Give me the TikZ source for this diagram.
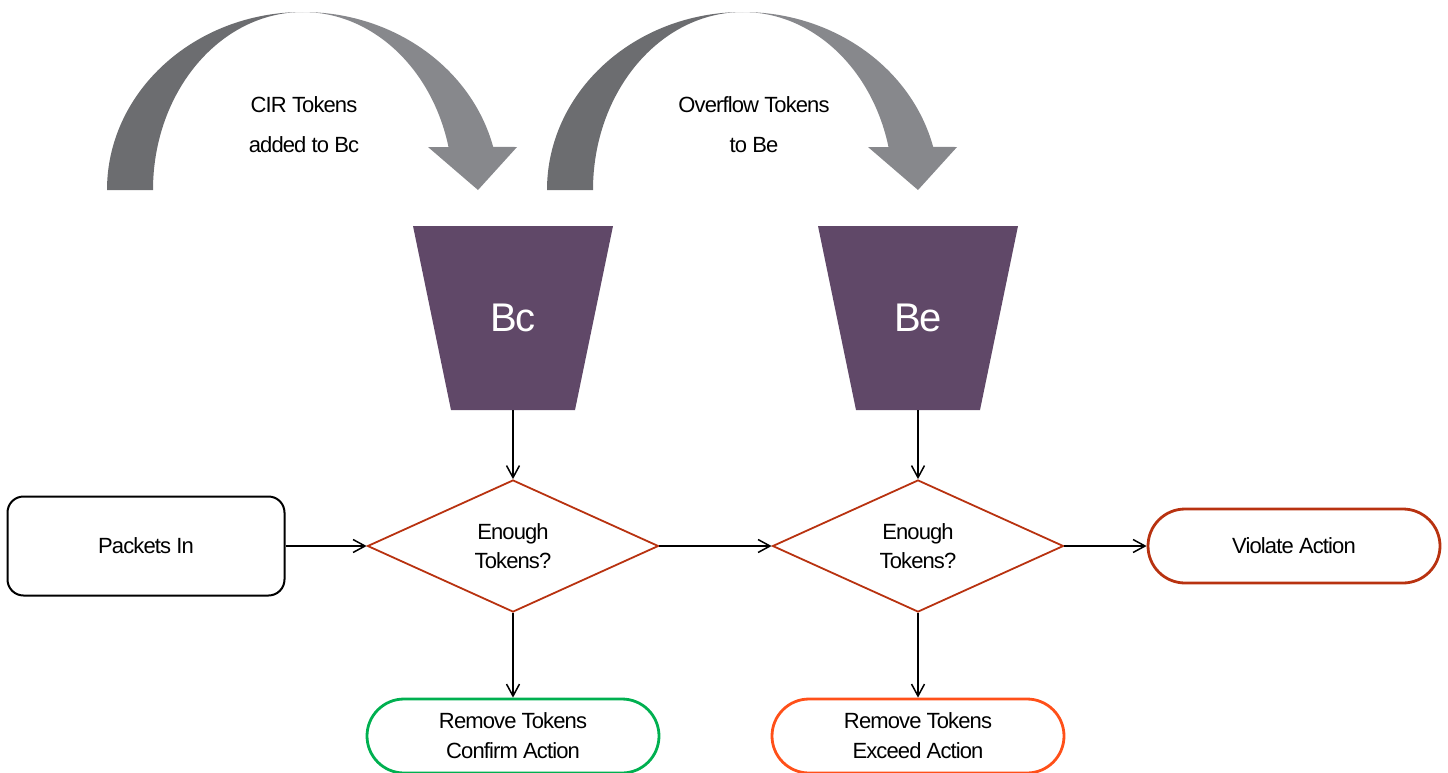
\documentclass[tikz,border=0pt]{standalone}
\usepackage{fontspec}
\setmainfont{Liberation Sans}[LetterSpace=-4]
\usepackage{tikz}
\usetikzlibrary{arrows.meta,shapes}
\definecolor{bucketpurple}{RGB}{96,72,104}
\definecolor{decisionred}{RGB}{184,50,16}
\definecolor{confirmgreen}{RGB}{0,176,80}
\definecolor{exceedorange}{RGB}{255,80,25}
\definecolor{arcdark}{RGB}{108,109,112}
\definecolor{arclight}{RGB}{135,136,140}
\tikzstyle{bucket}=[rectangle,minimum width=124,minimum height=184,inner sep=0pt,text=white,font=\fontsize{40}{44}\selectfont]
\tikzstyle{decision}=[diamond,aspect=2.2,draw=decisionred,line width=1.8pt,minimum width=291,minimum height=132,inner sep=0pt,align=center,font=\fontsize{22}{29}\selectfont]
\tikzstyle{terminal}=[rectangle,rounded corners=37pt,line width=2.8pt,minimum width=292,minimum height=74,align=center,font=\fontsize{22}{30}\selectfont]
\tikzstyle{startbox}=[rectangle,rounded corners=16pt,draw=black,line width=2pt,minimum width=277,minimum height=99,font=\fontsize{22}{29}\selectfont]
\tikzstyle{flow}=[draw,line width=1.5pt,-{Straight Barb[length=12pt,width=13pt]}]

\begin{document}
\begin{tikzpicture}[x=1pt,y=1pt]
    % Fix the page to the size of the picture
    \useasboundingbox (0,0) rectangle (1448,-772);

    % First we draw the two curved token arrows
    \foreach \cx in {303,743} {
        \fill[arcdark] (\cx-196,-190) arc[start angle=180,end angle=90,x radius=196,y radius=178]
            arc[start angle=90,end angle=180,x radius=150,y radius=178] -- cycle;
        \fill[arclight] (\cx,-12) arc[start angle=90,end angle=14,x radius=196,y radius=178]
            -- (\cx+214,-147) -- (\cx+175,-190) -- (\cx+125,-147) -- (\cx+145.5,-147)
            arc[start angle=14,end angle=90,x radius=150,y radius=178] -- cycle;
    }
    \node[align=center,font=\fontsize{22}{40}\selectfont] (cir) at (304,-125) {CIR Tokens\\added to Bc};
    \node[align=center,font=\fontsize{22}{40}\selectfont] (ovf) at (754,-125) {Overflow Tokens\\to Be};

    % Then the buckets
    \foreach \cx/\name in {513/Bc, 918/Be} {
        \fill[bucketpurple] (\cx-100,-226) -- (\cx+100,-226) -- (\cx+62,-410) -- (\cx-62,-410) -- cycle;
        \node[bucket] (\name) at (\cx,-318) {\name};
    }

    % Now the decisions and the actions
    \node[startbox] (packets) at (146,-546) {Packets In};
    \foreach \pos/\name in {{(513,-546)/enoughc}, {(918,-546)/enoughe}}
        \node[decision] (\name) at \pos {Enough\\Tokens?};
    \node[terminal,draw=decisionred] (violate) at (1294,-546) {Violate Action};
    \node[terminal,draw=confirmgreen] (confirm) at (513,-736) {Remove Tokens\\Confirm Action};
    \node[terminal,draw=exceedorange] (exceed) at (918,-736) {Remove Tokens\\Exceed Action};

    % Connect them with arrows
    \foreach \source/\dest in {Bc/enoughc, Be/enoughe, packets/enoughc, enoughc/enoughe, enoughe/violate, enoughc/confirm, enoughe/exceed}
        \path[flow] (\source) -- (\dest);
\end{tikzpicture}
\end{document}
